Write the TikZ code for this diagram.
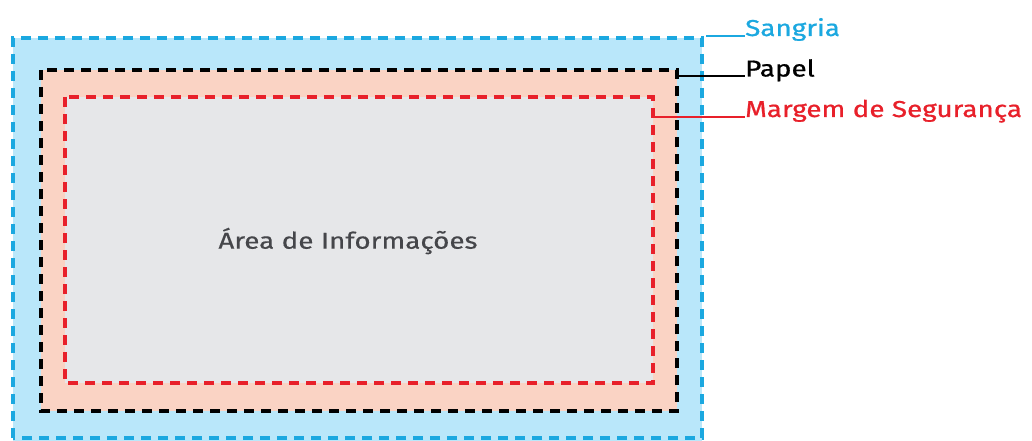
\documentclass[tikz,border=0pt]{standalone}
\usepackage{fontspec}
\setmainfont{Fira Sans}
\newfontfamily\lblfont[FakeStretch=1.21,FakeBold=0.8]{Fira Sans}
\newfontfamily\infofont[FakeStretch=1.21,FakeBold=0.3]{Fira Sans}
\definecolor{bleedblue}{HTML}{1BA8E0}
\definecolor{bleedfill}{HTML}{B9E7FA}
\definecolor{paperfill}{HTML}{FAD3C4}
\definecolor{safefill}{HTML}{E6E7E9}
\definecolor{safered}{HTML}{E8202A}
\definecolor{infotext}{HTML}{45464A}
\tikzset{
  frame/.style={line width=3.2pt, dash pattern=on 10pt off 7pt},
  lbl/.style={anchor=base west, inner sep=0pt, font=\lblfont\fontsize{23}{23}\selectfont},
  leader/.style={line width=2pt}
}
\begin{document}
\begin{tikzpicture}[x=1pt,y=-1pt]
\useasboundingbox (0,0) rectangle (1032,441);
\fill[white] (0,0) rectangle (1032,441);
% fills
\fill[bleedfill] (13,38) rectangle (702,445);
\fill[paperfill] (41,70) rectangle (677,411);
\fill[safefill] (65,97) rectangle (653,383);
% frames
\draw[frame, bleedblue] (13,438) -- (13,38) -- (702,38) -- (702,438) -- cycle;
\draw[frame, black] (41,70) rectangle (677,411);
\draw[frame, safered] (65,97) rectangle (653,383);
% text
\node[font=\infofont\fontsize{23}{23}\selectfont, text=infotext] (info) at (348,241) {Área de Informações};
% labels
\coordinate (sc) at (706,36);
\coordinate (pc) at (677,76.5);
\coordinate (mc) at (653,117);
\node[lbl, text=bleedblue] (sangria) at (745,36) {Sangria};
\node[lbl, text=black] (papel) at (745,76.5) {Papel};
\node[lbl, text=safered] (margem) at (745,117) {Margem de Segurança};
\draw[leader, bleedblue] (sc) -- (sangria.base west);
\draw[leader, black] (pc) -- (papel.base west);
\draw[leader, safered] (mc) -- (margem.base west);
\end{tikzpicture}
\end{document}
